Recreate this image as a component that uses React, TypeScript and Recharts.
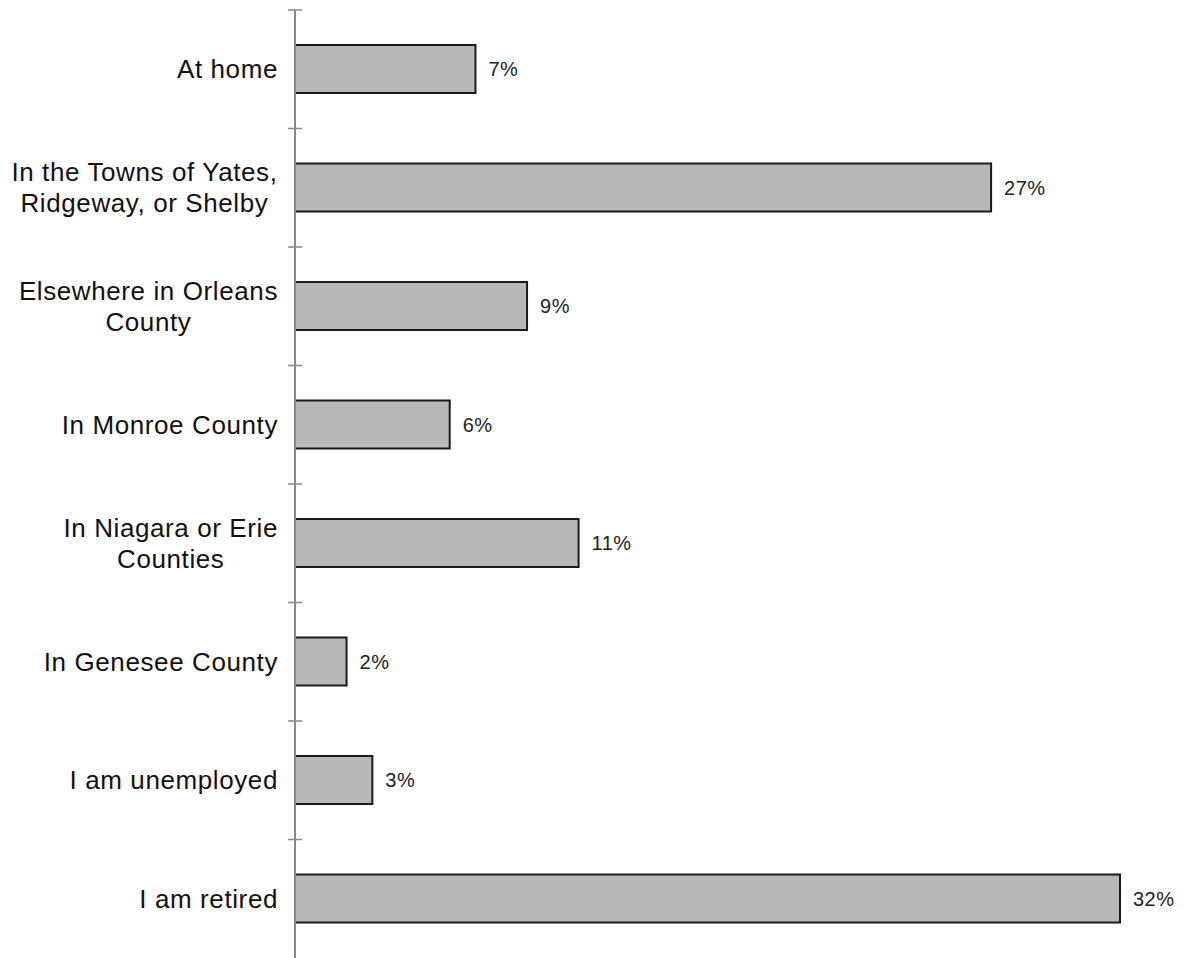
import { BarChart, Bar, XAxis, YAxis, LabelList } from 'recharts'

const categories = [
  'At home',
  'In the Towns of Yates,\nRidgeway, or Shelby',
  'Elsewhere in Orleans\nCounty',
  'In Monroe County',
  'In Niagara or Erie\nCounties',
  'In Genesee County',
  'I am unemployed',
  'I am retired',
]
const percents = [7, 27, 9, 6, 11, 2, 3, 32]

const data = categories.map((name, i) => ({ name, value: percents[i] }))

const W = 1185
const H = 958
const MARGIN = { top: 10, right: 65, bottom: 0, left: 0 }
const YAXIS_W = 295
const BAND = (H - MARGIN.top - MARGIN.bottom) / categories.length
const FONT = "'Liberation Sans', Arial, Helvetica, sans-serif"
const LABEL_SIZE = 26
const LABEL_SPACING = 0.6
const LINE_H = 31

let ctx: CanvasRenderingContext2D | null = null
function textWidth(s: string) {
  if (!ctx) ctx = document.createElement('canvas').getContext('2d')
  if (!ctx) return s.length * 13
  ctx.font = `${LABEL_SIZE}px ${FONT}`
  return ctx.measureText(s).width + s.length * LABEL_SPACING
}

function CategoryTick(props: any) {
  const { y, payload } = props
  const lines: string[] = String(payload.value).split('\n')
  const axisX = MARGIN.left + YAXIS_W
  const right = axisX - 17
  const maxW = Math.max(...lines.map(textWidth))
  const cx = right - maxW / 2
  const first = y + 9 - ((lines.length - 1) * LINE_H) / 2
  const top = y - BAND / 2
  return (
    <g>
      <line x1={axisX - 7} x2={axisX + 7} y1={top} y2={top} stroke="#888" strokeWidth={1.5} />
      {lines.map((l, i) => (
        <text
          key={i}
          x={cx}
          y={first + i * LINE_H}
          textAnchor="middle"
          fontSize={LABEL_SIZE}
          fontFamily={FONT}
          letterSpacing={LABEL_SPACING}
          fill="#111"
        >
          {l}
        </text>
      ))}
    </g>
  )
}

export default function App() {
  return (
    <div style={{ position: 'absolute', left: 0, top: 0, background: '#fff' }}>
      <BarChart width={W} height={H} data={data} layout="vertical" margin={MARGIN}>
        <XAxis type="number" domain={[0, 32]} hide />
        <YAxis
          type="category"
          dataKey="name"
          width={YAXIS_W}
          axisLine={{ stroke: '#888', strokeWidth: 2 }}
          tickLine={false}
          tick={<CategoryTick />}
          interval={0}
        />
        <Bar
          dataKey="value"
          fill="#b8b8b8"
          stroke="#1a1a1a"
          strokeWidth={2}
          barSize={48}
          isAnimationActive={false}
        >
          <LabelList
            dataKey="value"
            position="right"
            offset={13}
            fill="#222"
            fontSize={20}
            letterSpacing={0.5}
            fontFamily={FONT}
            formatter={(v: any) => `${v}%`}
          />
        </Bar>
      </BarChart>
    </div>
  )
}
